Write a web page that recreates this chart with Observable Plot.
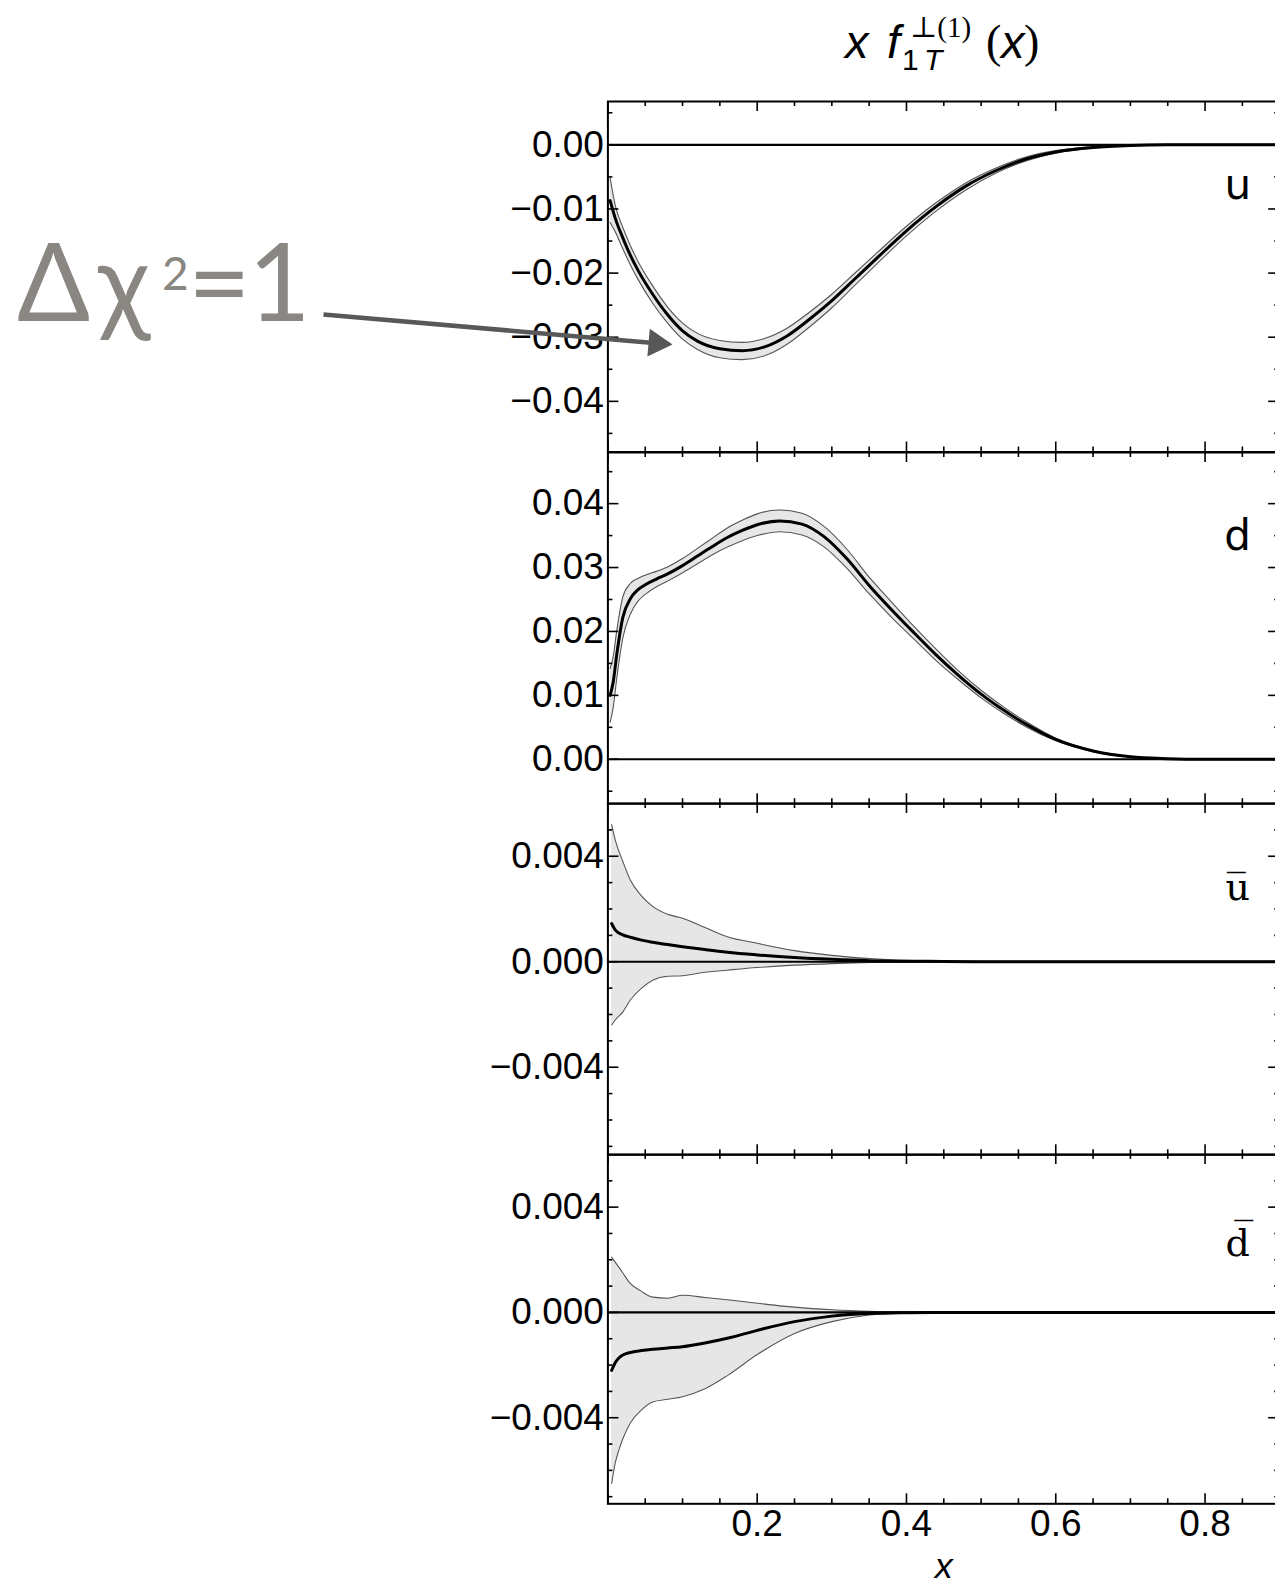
<!DOCTYPE html>
<html><head><meta charset="utf-8">
<script src="https://cdn.jsdelivr.net/npm/d3@7"></script>
<script src="https://cdn.jsdelivr.net/npm/@observablehq/plot@0.6"></script>
<style>
html,body{margin:0;padding:0;background:#fff;overflow:hidden;}
#page{position:relative;width:1275px;height:1586px;overflow:hidden;background:#fff;}
.panel{position:absolute;left:0;width:1280px;}
.panel svg{max-width:none !important;overflow:visible;}
#overlay{position:absolute;left:0;top:0;}
</style></head><body><div id="page"></div>
<script>
// ---------- x axis ----------
const xMajor = [0, 0.2, 0.4, 0.6, 0.8];
const xMinor = [0.05, 0.1, 0.15, 0.25, 0.3, 0.35, 0.45, 0.5, 0.55, 0.65, 0.7, 0.75, 0.85];
const xLabelValues = [0.2, 0.4, 0.6, 0.8];
const xLabels = ["0.2", "0.4", "0.6", "0.8"];

// ---------- u ----------
const uX   = [0.003,0.01,0.02,0.03,0.04,0.06,0.08,0.10,0.12,0.15,0.18,0.21,0.24,0.27,0.30,0.33,0.36,0.40,0.44,0.48,0.52,0.56,0.60,0.65,0.70,0.75,0.80,0.85,0.90];
const uMid = [-0.0087,-0.0115,-0.0145,-0.0172,-0.0195,-0.0233,-0.0265,-0.0290,-0.0306,-0.0318,-0.0321,-0.0315,-0.0298,-0.0272,-0.0243,-0.0210,-0.0177,-0.0134,-0.0096,-0.0064,-0.0040,-0.0022,-0.0011,-0.0004,-0.0001,0,0,0,0];
const uHi  = [-0.0052,-0.0095,-0.0129,-0.0157,-0.0181,-0.0220,-0.0253,-0.0278,-0.0294,-0.0305,-0.0308,-0.0302,-0.0286,-0.0261,-0.0233,-0.0201,-0.0169,-0.0127,-0.0090,-0.0059,-0.0036,-0.0019,-0.0009,-0.0003,-0.0001,0,0,0,0];
const uLo  = [-0.0121,-0.0136,-0.0162,-0.0187,-0.0209,-0.0247,-0.0278,-0.0303,-0.0319,-0.0332,-0.0335,-0.0329,-0.0311,-0.0284,-0.0254,-0.0220,-0.0186,-0.0142,-0.0103,-0.0070,-0.0044,-0.0025,-0.0013,-0.0005,-0.0001,0,0,0,0];
const uYMajor = [0, -0.01, -0.02, -0.03, -0.04];
const uYLabels = ["0.00", "\u22120.01", "\u22120.02", "\u22120.03", "\u22120.04"];
const uYMinor = [0.005, -0.005, -0.015, -0.025, -0.035, -0.045];

// ---------- d ----------
const dX   = [0.003,0.007,0.012,0.02,0.03,0.04,0.05,0.065,0.08,0.10,0.12,0.14,0.16,0.18,0.20,0.23,0.26,0.29,0.32,0.35,0.38,0.41,0.44,0.47,0.50,0.53,0.56,0.60,0.65,0.70,0.75,0.80,0.85,0.90];
const dMid = [0.0100,0.0120,0.0165,0.0222,0.0251,0.0265,0.0273,0.0282,0.0290,0.0303,0.0318,0.0333,0.0347,0.0358,0.0367,0.0373,0.0368,0.0348,0.0314,0.0272,0.0234,0.0198,0.0163,0.0131,0.0102,0.0077,0.0055,0.0031,0.0013,0.0004,0.0001,0,0,0];
const dHi  = [0.0142,0.0160,0.0202,0.0254,0.0275,0.0283,0.0288,0.0294,0.0301,0.0314,0.0330,0.0346,0.0362,0.0374,0.0384,0.0390,0.0385,0.0364,0.0329,0.0285,0.0246,0.0208,0.0172,0.0138,0.0108,0.0082,0.0059,0.0033,0.0014,0.00045,0.0001,0,0,0];
const dLo  = [0.0058,0.0080,0.0128,0.0190,0.0227,0.0247,0.0258,0.0270,0.0279,0.0292,0.0306,0.0320,0.0332,0.0342,0.0350,0.0356,0.0351,0.0332,0.0299,0.0259,0.0222,0.0188,0.0154,0.0124,0.0096,0.0072,0.0051,0.0029,0.0012,0.00035,0.0001,0,0,0];
const dYMajor = [0.04, 0.03, 0.02, 0.01, 0];
const dYLabels = ["0.04", "0.03", "0.02", "0.01", "0.00"];
const dYMinor = [0.045, 0.035, 0.025, 0.015, 0.005, -0.005];

// ---------- u-bar ----------
const ubX   = [0.005,0.01,0.02,0.03,0.045,0.06,0.08,0.10,0.13,0.16,0.20,0.25,0.30,0.35,0.40,0.45,0.50,0.60,0.70,0.80,0.90];
const ubMid = [0.00145,0.0012,0.00102,0.00093,0.00082,0.00074,0.00065,0.00057,0.00046,0.00036,0.00026,0.00016,0.00009,0.00004,0.00002,0.00001,0,0,0,0,0];
const ubHi  = [0.0052,0.0046,0.0038,0.0031,0.0025,0.0021,0.0018,0.00165,0.0013,0.00095,0.0007,0.00042,0.00024,0.00012,0.00005,0.00002,0.00001,0,0,0,0];
const ubLo  = [-0.0024,-0.0022,-0.0019,-0.00145,-0.001,-0.0007,-0.00055,-0.00053,-0.0004,-0.00032,-0.00022,-0.00013,-0.00007,-0.00003,-0.00001,0,0,0,0,0,0];

// ---------- d-bar ----------
const dbX   = [0.005,0.01,0.015,0.02,0.03,0.045,0.06,0.08,0.10,0.13,0.16,0.20,0.25,0.30,0.35,0.40,0.45,0.50,0.60,0.70,0.80,0.90];
const dbMid = [-0.0022,-0.0019,-0.00172,-0.00162,-0.00152,-0.00145,-0.0014,-0.00135,-0.0013,-0.00116,-0.00098,-0.00068,-0.00035,-0.00014,-0.00004,-0.00001,0,0,0,0,0,0];
const dbHi  = [0.0021,0.0019,0.0017,0.0015,0.0011,0.0008,0.00058,0.00054,0.00065,0.00057,0.00048,0.00035,0.0002,0.0001,0.00004,0.00001,0,0,0,0,0,0];
const dbLo  = [-0.0065,-0.0057,-0.0052,-0.0048,-0.0042,-0.0037,-0.0034,-0.0033,-0.0032,-0.0029,-0.0024,-0.0016,-0.0008,-0.00035,-0.0001,-0.00002,0,0,0,0,0,0];

const smallYMajor = [0.004, 0, -0.004];
const smallYLabels = ["0.004", "0.000", "\u22120.004"];
const smallYMinor = [0.005, 0.003, 0.002, 0.001, -0.001, -0.002, -0.003, -0.005, -0.006, -0.007];

// ---------- annotation (data coords of the u panel) ----------
const annotArrow = [{x1: -0.381, y1: -0.02647, x2: 0.0652, y2: -0.03094}];
const annotHead = [{x: 0.0652, y: -0.03094, angle: 94.9}];

// ---------- layout ----------
const W = 1280, ML = 607.4, MR = 0.8;
const innerW = W - ML - MR;
const FONT = "'Liberation Sans', Arial, Helvetica, sans-serif";

function makePanel(cfg) {
  const frameH = cfg.frameH;
  const data = cfg.X.map((x, i) => ({x, mid: cfg.mid[i], lo: cfg.lo[i], hi: cfg.hi[i]}));
  const curve = "monotone-x";
  const tick = {stroke: "black", strokeWidth: 1.6};
  const marks = [
    Plot.areaY(data, {x: "x", y1: "lo", y2: "hi", fill: "#e6e6e6", curve}),
    Plot.lineY(data, {x: "x", y: "hi", stroke: "#555", strokeWidth: 1.1, curve}),
    Plot.lineY(data, {x: "x", y: "lo", stroke: "#555", strokeWidth: 1.1, curve}),
    Plot.ruleY([0], {stroke: "black", strokeWidth: 2.2}),
    Plot.lineY(data, {x: "x", y: "mid", stroke: "black", strokeWidth: 3, curve}),
    Plot.ruleX(xMajor, {...tick, insetTop: frameH - 10}),
    Plot.ruleX(xMajor, {...tick, insetBottom: frameH - 10}),
    Plot.ruleX(xMinor, {...tick, insetTop: frameH - 5}),
    Plot.ruleX(xMinor, {...tick, insetBottom: frameH - 5}),
    Plot.ruleY(cfg.yMajor, {...tick, insetRight: innerW - 11}),
    Plot.ruleY(cfg.yMajor, {...tick, insetLeft: innerW - 11}),
    Plot.ruleY(cfg.yMinor, {...tick, insetRight: innerW - 5}),
    Plot.ruleY(cfg.yMinor, {...tick, insetLeft: innerW - 5}),
    Plot.frame({stroke: "black", strokeWidth: 2}),
    Plot.text(cfg.yMajor, {x: () => 0, y: d => d, text: (d, i) => cfg.yLabels[i], textAnchor: "end", dx: -4, fontSize: 37, fill: "black"}),
    Plot.text([cfg.label], {frameAnchor: "top-right", dx: -42, dy: cfg.labelDy, lineAnchor: "bottom", textAnchor: "middle", fontFamily: cfg.labelFont, fontSize: cfg.labelSize, fill: "black"}),
    ...(cfg.extra || [])
  ];
  const svg = Plot.plot({
    width: W, height: cfg.mt + frameH + cfg.mb,
    marginLeft: ML, marginRight: MR, marginTop: cfg.mt, marginBottom: cfg.mb,
    x: {domain: [0, 0.9], axis: null},
    y: {domain: cfg.domain, axis: null},
    style: {fontFamily: FONT, fontSize: "37px", background: "transparent", maxWidth: "none", overflow: "visible"},
    marks
  });
  const div = document.createElement("div");
  div.className = "panel";
  div.style.top = cfg.top + "px";
  div.appendChild(svg);
  document.getElementById("page").appendChild(div);
}

makePanel({
  top: 0, mt: 101, mb: 15, frameH: 350.5, domain: [-0.0479, 0.00676],
  X: uX, mid: uMid, lo: uLo, hi: uHi,
  yMajor: uYMajor, yLabels: uYLabels, yMinor: uYMinor,
  label: "u", labelFont: "'DejaVu Sans', sans-serif", labelSize: 42, labelDy: 97,
  extra: [
    Plot.link(annotArrow, {x1: "x1", y1: "y1", x2: "x2", y2: "y2", stroke: "#585858", strokeWidth: 4.5}),
    Plot.dot(annotHead, {x: "x", y: "y", symbol: "triangle", r: 10.3, fill: "#585858", stroke: "none", rotate: "angle"})
  ]
});
makePanel({
  top: 436.5, mt: 15, mb: 15, frameH: 351.2, domain: [-0.00695, 0.0480],
  X: dX, mid: dMid, lo: dLo, hi: dHi,
  yMajor: dYMajor, yLabels: dYLabels, yMinor: dYMinor,
  label: "d", labelFont: "'DejaVu Sans', sans-serif", labelSize: 42, labelDy: 97.5
});
makePanel({
  top: 787.7, mt: 15, mb: 15, frameH: 351.3, domain: [-0.00732, 0.0060],
  X: ubX, mid: ubMid, lo: ubLo, hi: ubHi,
  yMajor: smallYMajor, yLabels: smallYLabels, yMinor: smallYMinor,
  label: "u\u0305", labelFont: "'DejaVu Serif', serif", labelSize: 38, labelDy: 97
});
makePanel({
  top: 1139, mt: 15, mb: 83, frameH: 349.3, domain: [-0.00727, 0.0060],
  X: dbX, mid: dbMid, lo: dbLo, hi: dbHi,
  yMajor: smallYMajor, yLabels: smallYLabels, yMinor: smallYMinor,
  label: "d\u0305", labelFont: "'DejaVu Serif', serif", labelSize: 38, labelDy: 102,
  extra: [
    Plot.text(xLabelValues, {x: d => d, frameAnchor: "bottom", dy: 32, lineAnchor: "bottom", text: (d, i) => xLabels[i], fontSize: 37, fill: "black"}),
    Plot.text(["x"], {frameAnchor: "bottom", dy: 74, lineAnchor: "bottom", fontStyle: "italic", fontSize: 36, fill: "black"})
  ]
});

// ---------- title and Δχ² annotation text ----------
const NS = "http://www.w3.org/2000/svg";
const ov = document.createElementNS(NS, "svg");
ov.setAttribute("id", "overlay");
ov.setAttribute("width", 1275); ov.setAttribute("height", 1586);
function t(str, x, y, size, opts = {}) {
  const el = document.createElementNS(NS, "text");
  el.setAttribute("x", x); el.setAttribute("y", y);
  el.setAttribute("font-size", size);
  el.setAttribute("font-family", opts.family || FONT);
  if (opts.italic) el.setAttribute("font-style", "italic");
  if (opts.weight) el.setAttribute("font-weight", opts.weight);
  el.setAttribute("fill", opts.fill || "black");
  el.textContent = str;
  ov.appendChild(el);
  return el;
}
const SERIF = "'Liberation Serif', 'DejaVu Serif', serif";
t("x", 845, 58, 47, {italic: true});
t("f", 887, 58, 47, {italic: true});
t("1", 902, 70, 30);
t("T", 924, 70, 30, {italic: true});
t("\u22a5(1)", 910, 37, 29, {family: SERIF});
t("(", 986, 57, 46, {family: SERIF});
t("x", 1001, 58, 47, {italic: true});
t(")", 1024, 57, 46, {family: SERIF});

// Δχ²=1 as one text element with positioned tspans
const GRAY = "#8a8782";
const AF = "Lato, 'DejaVu Sans', sans-serif";
const chi = t("", 17, 321, 108, {family: AF, fill: GRAY});
function span(str, x, y, size) {
  const s = document.createElementNS(NS, "tspan");
  s.setAttribute("x", x); s.setAttribute("y", y); s.setAttribute("font-size", size);
  s.textContent = str; chi.appendChild(s);
}
span("\u0394", 17, 321, 108);
span("\u03c7", 98, 321, 108);
span("2", 162, 290, 46);
span("=", 188, 321, 108);
span("1", 248, 321, 108);
document.getElementById("page").appendChild(ov);
</script>
</body></html>
